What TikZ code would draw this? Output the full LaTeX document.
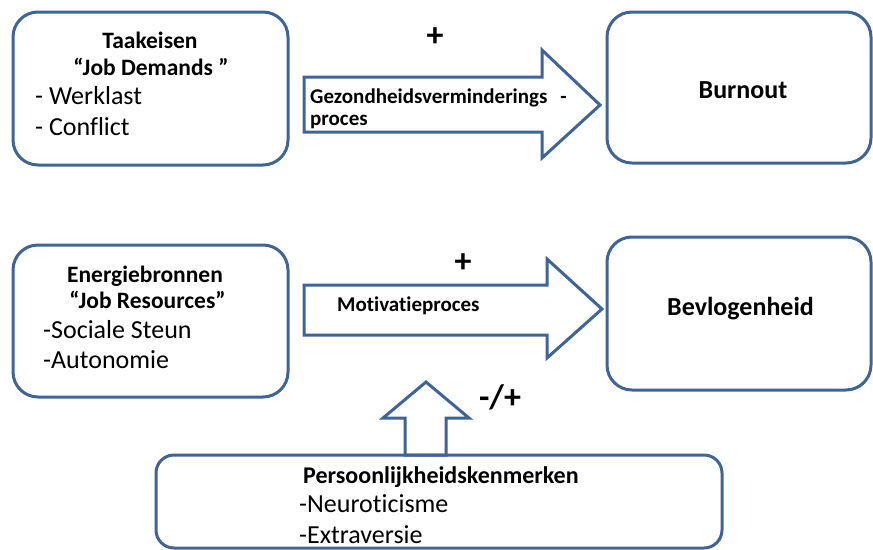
\documentclass[tikz,border=0pt]{standalone}
\usepackage{fontspec}
\setmainfont{Carlito}[Ligatures=NoCommon]
\definecolor{bord}{HTML}{3F6496}
\begin{document}
\begin{tikzpicture}[x=1pt,y=-1pt,
  box/.style={draw=bord, line width=3pt, rounded corners=25pt, inner sep=0pt},
  blk/.style={draw=bord, line width=3pt, fill=white, line join=miter},
  ttl/.style={font=\fontsize{23.5}{28}\selectfont\bfseries, anchor=base, inner sep=0pt},
  big/.style={font=\fontsize{26}{30}\selectfont\bfseries, inner sep=0pt},
  itm/.style={font=\fontsize{26}{30}\selectfont, anchor=base west, inner sep=0pt},
  lbl/.style={font=\fontsize{21}{24}\selectfont\bfseries, anchor=base west, inner sep=0pt},
  sgn/.style={font=\fontsize{34}{38}\selectfont\bfseries, inner sep=0pt}]
\useasboundingbox (0,0) rectangle (873,549);
% boxes
\node[box, minimum width=275pt, minimum height=153pt] (jd) at (150.5,88.5) {};
\node[box, minimum width=264pt, minimum height=151pt] (bo) at (739,87.5) {};
\node[box, minimum width=275pt, minimum height=152pt] (jr) at (150.5,321) {};
\node[box, minimum width=264pt, minimum height=153pt] (bv) at (739,313.5) {};
% block arrows
\draw[blk] (304,77) -- (542,77) -- (542,50) -- (600,105) -- (542,158) -- (542,132) -- (304,132) -- cycle;
\draw[blk] (304,285) -- (547,285) -- (547,259) -- (602,309) -- (547,358) -- (547,335) -- (304,335) -- cycle;
\draw[blk] (405,455) -- (405,418) -- (383,418) -- (426,382) -- (469,418) -- (446,418) -- (446,455) -- cycle;
\node[box, rounded corners=18pt, minimum width=566pt, minimum height=93pt] (pk) at (439,501.5) {};
% texts
\node[ttl] (t1) at (150,48) {Taakeisen};
\node[ttl] (t2) at (151,75) {“Job Demands ”};
\node[itm] (t3) at (35,104) {- Werklast};
\node[itm] (t4) at (35,135) {- Conflict};
\node[sgn] (p1) at (435,37) {+};
\node[lbl] (g1) at (310,103) {Gezondheidsverminderings\hspace{13pt}-};
\node[lbl] (g2) at (310,125) {proces};
\node[big, anchor=base] (b1) at (743,98) {Burnout};
\node[ttl] (e1) at (145,282) {Energiebronnen};
\node[ttl] (e2) at (147.5,308) {“Job Resources”};
\node[itm] (e3) at (43,338) {-Sociale Steun};
\node[itm] (e4) at (43,368) {-Autonomie};
\node[sgn] (p2) at (463,263) {+};
\node[lbl] (m1) at (337,311) {Motivatieproces};
\node[big, anchor=base west] (b2) at (667,315) {Bevlogenheid};
\node[sgn, anchor=base] (p3) at (500,408) {-/+};
\node[ttl, font=\fontsize{24}{28}\selectfont\bfseries, anchor=base west] (k1) at (303,483) {Persoonlijkheidskenmerken};
\node[itm] (k2) at (299,512) {-Neuroticisme};
\node[itm] (k3) at (299,543) {-Extraversie};
\end{tikzpicture}
\end{document}
